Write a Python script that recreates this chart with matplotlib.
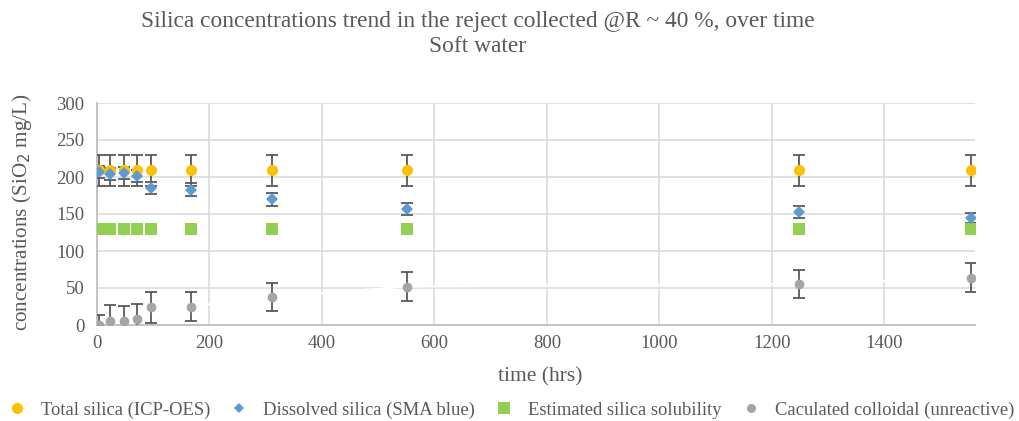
import matplotlib.pyplot as plt
from matplotlib.lines import Line2D

plt.rcParams['font.family'] = ['Liberation Serif', 'DejaVu Serif']

hours = [4, 24, 48, 72, 96, 168, 312, 552, 1248, 1554]
total = [209, 209, 209, 209, 209, 209, 209, 209, 209, 209]
total_err = [21, 21, 21, 21, 21, 21, 21, 21, 21, 21]
dissolved = [207, 204, 205, 201, 185, 183, 170, 157, 153, 145]
dissolved_err = [8, 8, 8, 8, 8, 9, 9, 8, 8, 7]
solubility = [130, 130, 130, 130, 130, 130, 130, 130, 130, 130]
colloidal = [0, 6, 5, 8, 24, 25, 38, 52, 55, 64]
colloidal_err = [13, 21, 21, 20, 21, 20, 19, 20, 19, 20]

c_total = '#FFC000'
c_diss = '#5B9BD5'
c_sol = '#92D050'
c_coll = '#A5A5A5'
c_err = '#595959'
c_text = '#595959'

fig = plt.figure(figsize=(10.2, 4.21), dpi=100)
ax = fig.add_axes([97/1020, 1-325/421, (975-97)/1020, (325-103)/421])

ax.errorbar(hours, total, yerr=total_err, fmt='none', ecolor=c_err, elinewidth=1.3, capsize=4, capthick=1.3, zorder=3)
ax.errorbar(hours, dissolved, yerr=dissolved_err, fmt='none', ecolor=c_err, elinewidth=1.3, capsize=4, capthick=1.3, zorder=3)
ax.errorbar(hours, colloidal, yerr=colloidal_err, fmt='none', ecolor=c_err, elinewidth=1.3, capsize=4, capthick=1.3, zorder=3)
# faint white connector of the colloidal series
ax.plot(hours, colloidal, color='white', linewidth=1.5, zorder=2)

ax.plot(hours, total, 'o', color=c_total, markersize=8, markeredgewidth=0, zorder=4)
ax.plot(hours, dissolved, 'D', color=c_diss, markersize=6, markeredgewidth=0, zorder=5)
ax.plot(hours, solubility, 's', color=c_sol, markersize=8, markeredgewidth=0, zorder=4)
ax.plot(hours, colloidal, 'o', color=c_coll, markersize=7, markeredgewidth=0, zorder=4)

ax.set_xlim(0, 1561)
ax.set_ylim(0, 300)
ax.set_xticks(range(0, 1401, 200))
ax.set_yticks(range(0, 301, 50))
ax.grid(True, color='#D9D9D9', linewidth=1.1, zorder=0)
ax.set_axisbelow(True)
for s in ['top', 'right']:
    ax.spines[s].set_visible(False)
for s in ['left', 'bottom']:
    ax.spines[s].set_color('#BFBFBF')
    ax.spines[s].set_linewidth(1.3)
ax.tick_params(length=0, labelsize=13.5, labelcolor=c_text, pad=7)
ax.tick_params(axis='y', pad=9)

fig.text(0.468, 1-22/421, 'Silica concentrations trend in the reject collected @R ~ 40 %, over time',
         ha='center', va='center', fontsize=16.8, color=c_text)
fig.text(0.468, 1-46/421, 'Soft water', ha='center', va='center', fontsize=16.8, color=c_text)
fig.text(540/1020, 1-377/421, 'time (hrs)', ha='center', va='center', fontsize=15.5, color=c_text)
fig.text(22/1020, 1-212/421, 'concentrations (SiO$_2$ mg/L)', rotation=90, ha='center', va='center',
         fontsize=15.2, color=c_text)

handles = [
    Line2D([], [], marker='o', linestyle='none', color=c_total, markersize=8, markeredgewidth=0),
    Line2D([], [], marker='D', linestyle='none', color=c_diss, markersize=5.5, markeredgewidth=0),
    Line2D([], [], marker='s', linestyle='none', color=c_sol, markersize=8, markeredgewidth=0),
    Line2D([], [], marker='o', linestyle='none', color=c_coll, markersize=6.5, markeredgewidth=0),
]
labels = ['Total silica (ICP-OES)', 'Dissolved silica (SMA blue)',
          'Estimated silica solubility', 'Caculated colloidal (unreactive)']
leg = fig.legend(handles, labels, loc='center', bbox_to_anchor=(0.5, 1-410/421), ncol=4,
                 frameon=False, fontsize=13.4, handletextpad=0.7, columnspacing=0.95, handlelength=1.2,
                 borderpad=0, borderaxespad=0)
for t in leg.get_texts():
    t.set_color(c_text)

fig.savefig('out.png', dpi=100)
